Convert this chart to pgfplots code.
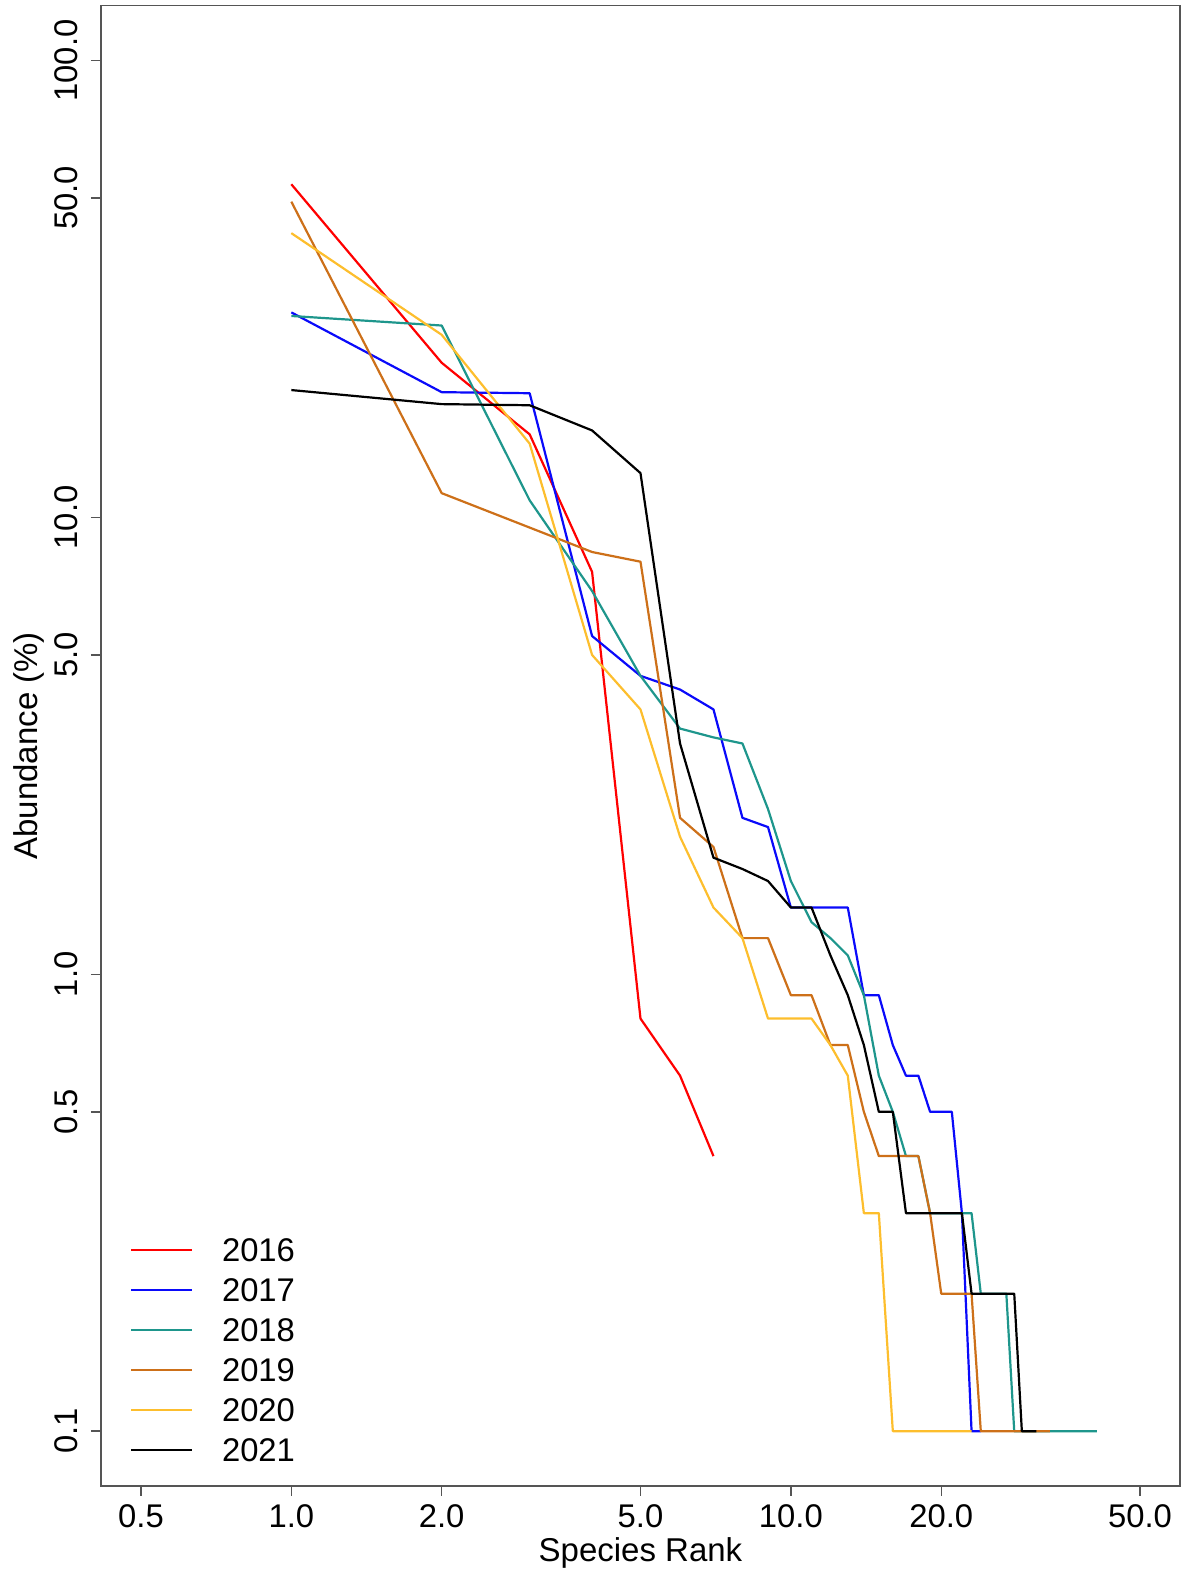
\documentclass[border=0pt]{standalone}
\usepackage{fontspec}
\setmainfont{Liberation Sans}
\usepackage{pgfplots}
\pgfplotsset{compat=1.18}
\definecolor{yrA}{RGB}{255,0,0}
\definecolor{yrB}{RGB}{10,10,250}
\definecolor{yrC}{RGB}{30,150,140}
\definecolor{yrD}{RGB}{205,112,25}
\definecolor{yrE}{RGB}{253,190,45}
\definecolor{yrF}{RGB}{0,0,0}
\definecolor{axgray}{RGB}{85,85,85}
\pgfplotstableread{
r v
1 53.6
2 21.8
3 15.2
4 7.6
5 0.8
6 0.6
7 0.4
}\tA
\pgfplotstableread{
r v
1 28.1
2 18.8
3 18.7
4 5.5
5 4.5
6 4.2
7 3.8
8 2.2
9 2.1
10 1.4
11 1.4
12 1.4
13 1.4
14 0.9
15 0.9
16 0.7
17 0.6
18 0.6
19 0.5
20 0.5
21 0.5
22 0.3
23 0.1
24 0.1
}\tB
\pgfplotstableread{
r v
1 27.6
2 26.3
3 10.9
4 6.9
5 4.5
6 3.45
7 3.3
8 3.2
9 2.3
10 1.6
11 1.3
12 1.2
13 1.1
14 0.9
15 0.6
16 0.5
17 0.4
18 0.4
19 0.3
20 0.3
21 0.3
22 0.3
23 0.3
24 0.2
25 0.2
26 0.2
27 0.2
28 0.1
29 0.1
30 0.1
31 0.1
32 0.1
33 0.1
34 0.1
35 0.1
36 0.1
37 0.1
38 0.1
39 0.1
40 0.1
41 0.1
}\tC
\pgfplotstableread{
r v
1 49.1
2 11.3
3 9.5
4 8.4
5 8.0
6 2.2
7 1.9
8 1.2
9 1.2
10 0.9
11 0.9
12 0.7
13 0.7
14 0.5
15 0.4
16 0.4
17 0.4
18 0.4
19 0.3
20 0.2
21 0.2
22 0.2
23 0.2
24 0.1
25 0.1
26 0.1
27 0.1
28 0.1
29 0.1
30 0.1
31 0.1
32 0.1
33 0.1
}\tD
\pgfplotstableread{
r v
1 41.9
2 25.1
3 14.5
4 5.0
5 3.8
6 2.0
7 1.4
8 1.2
9 0.8
10 0.8
11 0.8
12 0.7
13 0.6
14 0.3
15 0.3
16 0.1
17 0.1
18 0.1
19 0.1
20 0.1
21 0.1
22 0.1
23 0.1
}\tE
\pgfplotstableread{
r v
1 19.0
2 17.7
3 17.6
4 15.5
5 12.5
6 3.2
7 1.8
8 1.7
9 1.6
10 1.4
11 1.4
12 1.1
13 0.9
14 0.7
15 0.5
16 0.5
17 0.3
18 0.3
19 0.3
20 0.3
21 0.3
22 0.3
23 0.2
24 0.2
25 0.2
26 0.2
27 0.2
28 0.2
29 0.1
30 0.1
31 0.1
}\tF
\begin{document}
\fontsize{16.4}{19}\selectfont
\begin{tikzpicture}
\begin{axis}[
  name=ax, scale only axis, width=539.5pt, height=740.15pt,
  xmode=log, ymode=log,
  xmin=0.41591, xmax=60.12, ymin=0.075858, ymax=131.83,
  xtick={0.5,1,2,5,10,20,50},
  xticklabels={0.5,1.0,2.0,5.0,10.0,20.0,50.0},
  ytick={0.1,0.5,1,5,10,50,100},
  yticklabels={0.1,0.5,1.0,5.0,10.0,50.0,100.0},
  xminorticks=false, yminorticks=false,
  tick align=outside, tick pos=left, major tick length=5pt,
  axis line style={axgray, line width=0.7pt},
  every tick/.style={axgray, line width=0.7pt},
  tick label style={font=\fontsize{16.4}{19}\selectfont},
  xticklabel style={anchor=north, inner sep=0pt, yshift=-4pt},
  yticklabel style={xshift=-6.5pt, rotate=90, anchor=south, inner sep=0pt},
  xlabel={Species Rank}, ylabel={Abundance (\%)},
  label style={font=\fontsize{16.5}{19}\selectfont},
  xlabel style={at={(axis description cs:0.5,-0.0513)}, anchor=base, inner sep=0pt},
  ylabel style={at={(axis description cs:-0.0584,0.5)}, anchor=base, inner sep=0pt},
  legend style={draw=none, fill=none, at={(0.0269,0.0163)}, anchor=south west,
    inner sep=0pt, row sep=8.2pt, column sep=0pt,
    font=\fontsize{16.4}{19}\selectfont,
    nodes={inner sep=0pt, text height=11.8pt, text depth=0pt}},
  legend cell align=left,
  legend image code/.code={\draw[#1, line width=0.9pt] (0pt,0pt) -- (30.5pt,0pt); \path (44.8pt,0pt);},
  every axis plot/.append style={line width=1.1pt, line join=round},
]
\addplot[color=yrA] table[x=r,y=v] {\tA};
\addlegendentry{2016}
\addplot[color=yrB] table[x=r,y=v] {\tB};
\addlegendentry{2017}
\addplot[color=yrC] table[x=r,y=v] {\tC};
\addlegendentry{2018}
\addplot[color=yrD] table[x=r,y=v] {\tD};
\addlegendentry{2019}
\addplot[color=yrE] table[x=r,y=v] {\tE};
\addlegendentry{2020}
\addplot[color=yrF] table[x=r,y=v] {\tF};
\addlegendentry{2021}
\end{axis}
\pgfresetboundingbox
\path[use as bounding box] ([xshift=-50.5pt,yshift=-43.5pt]ax.south west) rectangle ([xshift=0.5pt,yshift=2.85pt]ax.north east);
\end{tikzpicture}
\end{document}
